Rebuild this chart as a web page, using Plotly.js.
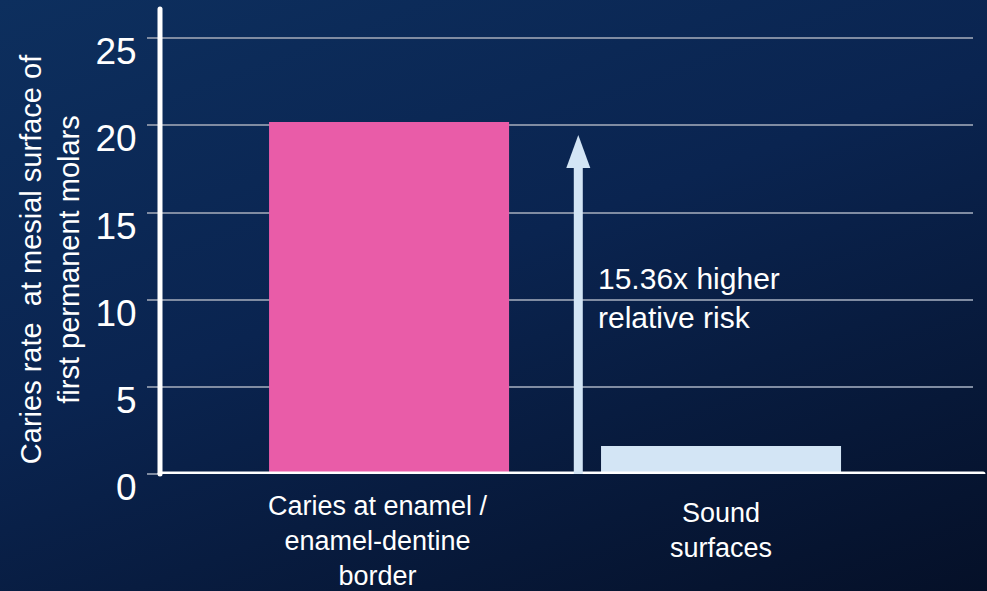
<!DOCTYPE html>
<html>
<head>
<meta charset="utf-8">
<script src="https://cdn.plot.ly/plotly-3.0.1.min.js"></script>
<style>
  html, body {
    margin: 0; padding: 0; width: 987px; height: 591px; overflow: hidden;
    background: linear-gradient(160deg, #0d2f5e 0%, #0a2450 45%, #051028 100%);
  }
  #chart { width: 987px; height: 591px; }
  /* rounded ends on the axis strokes and the arrow shaft */
  .shapelayer path { stroke-linecap: round; }
</style>
</head>
<body>
<div id="chart"></div>
<script>
// Caries rate at the mesial surface of first permanent molars, by state of the neighbouring surface
const categories = ['Caries at enamel /<br>enamel-dentine<br>border', 'Sound<br>surfaces'];
const cariesRate = [20.2, 1.6];
const barColors = ['#e95ca8', '#d3e5f5'];
const yTicks = [0, 5, 10, 15, 20, 25];
const yTickLabels = ['0', '5', '10', '15', '20', '25'];
const yTitle = 'Caries rate  at mesial surface of<br>first permanent molars';
const riskText = '15.36x higher<br>relative risk';
const arrowTop = 19.45;     // tip of the relative-risk arrow (y units)
const arrowX = 0.57;        // between the two bars (category index units)

const FONT = 'Liberation Sans, Arial, sans-serif';
const GRID = '#808ca2';
const LIGHT = '#d3e5f5';

const yMax = 26.68;
const margin = {l: 160, r: 14, t: 9, b: 117};
const plotH = 591 - margin.t - margin.b;
const pxPerUnit = plotH / yMax;
const headLen = 33, headHalf = 12;

const trace = {
  type: 'bar',
  x: categories.map((_, i) => i),
  y: cariesRate,
  marker: {color: barColors, line: {width: 0}},
  hoverinfo: 'skip'
};

// category labels sit under each bar
const catShift = [{x: -11, y: -15}, {x: 0, y: -22}];
const catAnnotations = categories.map((c, i) => ({
  xref: 'x', x: i, yref: 'paper', y: 0,
  xanchor: 'center', yanchor: 'top',
  xshift: catShift[i].x, yshift: catShift[i].y,
  text: c, showarrow: false, align: 'center',
  font: {family: FONT, size: 27, color: '#ffffff'}
}));

const layout = {
  width: 987, height: 591,
  margin: margin,
  paper_bgcolor: 'rgba(0,0,0,0)',
  plot_bgcolor: 'rgba(0,0,0,0)',
  showlegend: false,
  bargap: 0.277,
  xaxis: {
    type: 'linear', range: [-0.69, 1.759],
    showgrid: false, zeroline: false, showline: false,
    showticklabels: false, ticks: '', fixedrange: true
  },
  yaxis: {
    range: [0, yMax],
    tickmode: 'array', tickvals: yTicks, ticktext: yTickLabels,
    showgrid: true, gridcolor: GRID, gridwidth: 2,
    zeroline: false, showline: false,
    ticks: 'outside', ticklen: 12, tickwidth: 2, tickcolor: GRID,
    ticklabelshift: 13, ticklabelstandoff: 3,
    tickfont: {family: FONT, size: 37, color: '#ffffff'},
    fixedrange: true
  },
  shapes: [
    // y axis line
    {type: 'line', xref: 'paper', yref: 'paper', x0: 0, x1: 0, y0: 0, y1: 1,
     line: {color: '#ffffff', width: 5}},
    // x axis line, running a little past the gridlines
    {type: 'line', xref: 'paper', yref: 'y', x0: 0, x1: 1.0123, y0: 0, y1: 0,
     line: {color: '#ffffff', width: 5}},
    // arrow shaft
    {type: 'line', xref: 'x', yref: 'y', x0: arrowX, x1: arrowX,
     y0: 0, y1: arrowTop - headLen / pxPerUnit,
     line: {color: LIGHT, width: 9}},
    // arrow head
    {type: 'path', xref: 'x', yref: 'y', xsizemode: 'pixel', ysizemode: 'pixel',
     xanchor: arrowX, yanchor: arrowTop,
     path: 'M' + (-headHalf) + ',' + (-headLen) + 'L0,0L' + headHalf + ',' + (-headLen) + 'Z',
     fillcolor: LIGHT, line: {width: 0}}
  ],
  annotations: [
    {xref: 'paper', yref: 'paper', x: -0.1353, y: 0.462,
     xanchor: 'center', yanchor: 'middle', textangle: -90,
     text: yTitle, showarrow: false, align: 'center',
     font: {family: FONT, size: 29, color: '#ffffff'}},
    {xref: 'x', yref: 'y', x: arrowX, y: 12.27, xanchor: 'left', yanchor: 'top',
     xshift: 18, text: riskText, showarrow: false, align: 'left',
     font: {family: FONT, size: 30, color: '#ffffff'}}
  ].concat(catAnnotations)
};

Plotly.newPlot('chart', [trace], layout, {displayModeBar: false, staticPlot: true});
</script>
</body>
</html>
